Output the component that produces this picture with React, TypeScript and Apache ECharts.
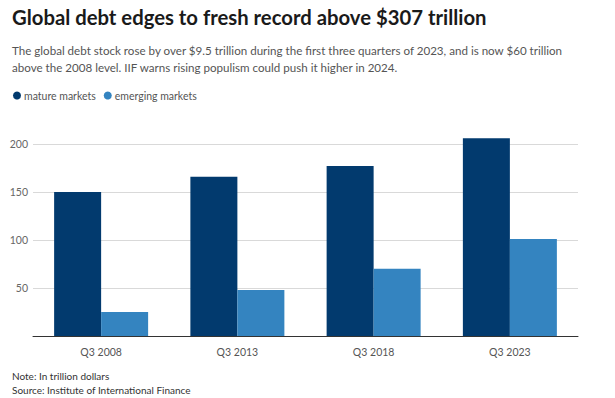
import React, { useEffect, useRef } from "react";
import * as echarts from "echarts";

const categories = ["Q3 2008", "Q3 2013", "Q3 2018", "Q3 2023"];
const matureMarkets = [150, 166, 177, 206];
const emergingMarkets = [25, 48, 70, 101];
const seriesNames = ["mature markets", "emerging markets"];
const titleText = "Global debt edges to fresh record above $307 trillion";
const subtitleLines = [
  "The global debt stock rose by over $9.5 trillion during the first three quarters of 2023, and is now $60 trillion",
  "above the 2008 level. IIF warns rising populism could push it higher in 2024.",
];
const footerLines = ["Note: In trillion dollars", "Source: Institute of International Finance"];

const FONT = "'Source Sans Pro', Lato, 'Noto Sans', sans-serif";

export default function App() {
  const ref = useRef<HTMLDivElement>(null);
  useEffect(() => {
    if (!ref.current) return;
    const chart = echarts.init(ref.current, undefined, { renderer: "svg" });
    chart.setOption({
      animation: false,
      backgroundColor: "#ffffff",
      textStyle: { fontFamily: FONT },
      graphic: [
        {
          type: "text",
          left: 12,
          top: 7,
          style: { text: titleText, font: `bold 20.3px ${FONT}`, fill: "#1a1a1a" },
        },
        {
          type: "text",
          left: 12,
          top: 42,
          style: {
            text: subtitleLines.join("\n"),
            font: `11.6px ${FONT}`,
            lineHeight: 17,
            fill: "#555555",
          },
        },
        {
          type: "text",
          left: 12,
          top: 369,
          style: {
            text: footerLines.join("\n"),
            font: `10px ${FONT}`,
            lineHeight: 14,
            fill: "#333333",
          },
        },
      ],
      legend: {
        left: 8,
        top: 85,
        icon: "circle",
        itemWidth: 8,
        itemHeight: 8,
        itemGap: 8,
        textStyle: { fontSize: 10.5, color: "#555555", fontFamily: FONT, padding: [0, 0, 0, -2] },
        data: seriesNames,
      },
      grid: { left: 33, right: 37, top: 144, bottom: 62, containLabel: false },
      xAxis: {
        type: "category",
        data: categories,
        axisLine: { lineStyle: { color: "#333333", width: 1 } },
        axisTick: { show: false },
        axisLabel: { color: "#555555", fontSize: 10.5, margin: 10, fontFamily: FONT },
      },
      yAxis: {
        type: "value",
        min: 0,
        max: 200,
        interval: 50,
        axisLine: { show: false },
        axisTick: { show: false },
        axisLabel: {
          color: "#666666",
          fontSize: 10.5,
          margin: 5,
          fontFamily: FONT,
          formatter: (v: number) => (v === 0 ? "" : String(v)),
        },
        splitLine: { lineStyle: { color: "#d9d9d9", width: 1 } },
      },
      series: [
        {
          name: seriesNames[0],
          type: "bar",
          data: matureMarkets,
          barWidth: 47,
          barGap: "0%",
          clip: false,
          itemStyle: { color: "#023a6e" },
        },
        {
          name: seriesNames[1],
          type: "bar",
          data: emergingMarkets,
          barWidth: 47,
          barGap: "0%",
          clip: false,
          itemStyle: { color: "#3484c0" },
        },
      ],
    });
    return () => chart.dispose();
  }, []);
  return <div ref={ref} style={{ width: 615, height: 398, position: "absolute", left: 0, top: 0 }} />;
}
